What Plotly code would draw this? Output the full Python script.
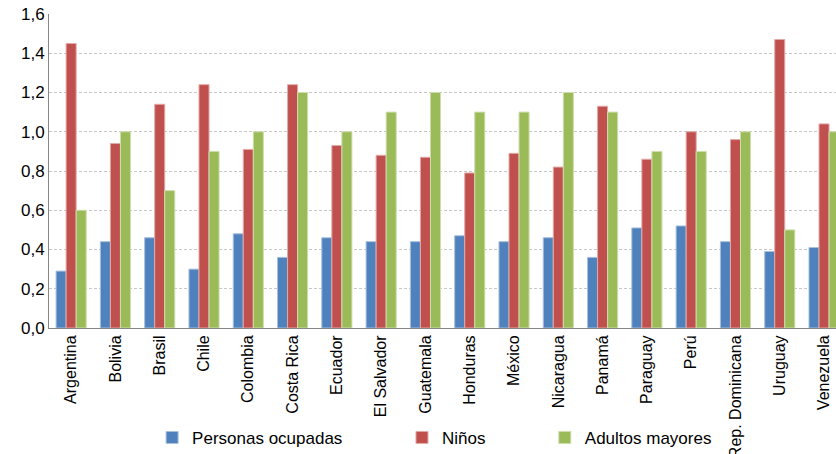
import plotly.graph_objects as go

paises = ["Argentina", "Bolivia", "Brasil", "Chile", "Colombia", "Costa Rica",
          "Ecuador", "El Salvador", "Guatemala", "Honduras", "México", "Nicaragua",
          "Panamá", "Paraguay", "Perú", "Rep. Dominicana", "Uruguay", "Venezuela"]

personas_ocupadas = [0.29, 0.44, 0.46, 0.30, 0.48, 0.36, 0.46, 0.44, 0.44,
                     0.47, 0.44, 0.46, 0.36, 0.51, 0.52, 0.44, 0.39, 0.41]
ninos = [1.45, 0.94, 1.14, 1.24, 0.91, 1.24, 0.93, 0.88, 0.87,
         0.79, 0.89, 0.82, 1.13, 0.86, 1.00, 0.96, 1.47, 1.04]
adultos_mayores = [0.60, 1.00, 0.70, 0.90, 1.00, 1.20, 1.00, 1.10, 1.20,
                   1.10, 1.10, 1.20, 1.10, 0.90, 0.90, 1.00, 0.50, 1.00]

y_ticks = [0.0, 0.2, 0.4, 0.6, 0.8, 1.0, 1.2, 1.4, 1.6]

series = [
    ("Personas ocupadas", personas_ocupadas, "#4F81BD", "#A7C0DE", "legend"),
    ("Niños", ninos, "#C0504D", "#E3A9A7", "legend2"),
    ("Adultos mayores", adultos_mayores, "#9BBB59", "#CEDDAC", "legend3"),
]

fig = go.Figure()
for name, vals, color, edge, leg in series:
    fig.add_trace(go.Bar(
        x=paises, y=vals, name=name,
        marker=dict(color=color, line=dict(color=edge, width=1)),
        legend=leg, showlegend=True,
    ))

font_family = "Liberation Sans, Arial, sans-serif"
legend_common = dict(orientation="h", yanchor="middle", y=-0.35, xanchor="left",
                     font=dict(size=17, color="#000000", family=font_family),
                     bgcolor="rgba(0,0,0,0)", itemclick=False)

fig.update_layout(
    width=836, height=454,
    margin=dict(l=49, r=0, t=14, b=126, autoexpand=False),
    paper_bgcolor="white", plot_bgcolor="white",
    showlegend=True,
    barmode="group", bargap=0.32, bargroupgap=0,
    separators=",.",
    font=dict(family=font_family, size=17, color="#000000"),
    legend=dict(x=0.131, **legend_common),
    legend2=dict(x=0.4485, **legend_common),
    legend3=dict(x=0.630, **legend_common),
    xaxis=dict(
        type="category", range=[-0.5, 17.27], automargin=False,
        showline=True, linecolor="#868686", linewidth=1,
        ticks="", tickangle=-90, tickfont=dict(size=16), ticklabelstandoff=0,
        showgrid=False,
    ),
    yaxis=dict(
        range=[0, 1.6], tickvals=y_ticks, tickformat=".1f", automargin=False,
        showline=True, linecolor="#868686", linewidth=1,
        showgrid=True, gridcolor="#C8C8C8", griddash="3px,2px", gridwidth=1,
        zeroline=False, ticks="", tickfont=dict(size=17),
    ),
)

fig.write_html("out.html")
